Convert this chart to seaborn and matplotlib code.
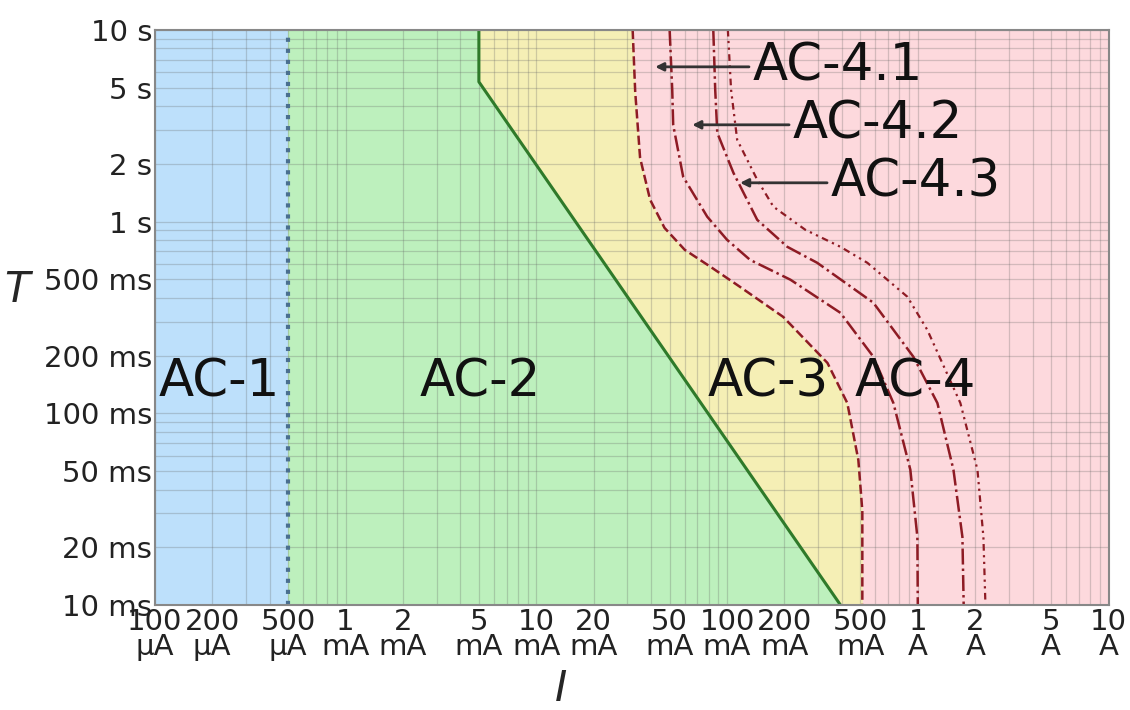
import numpy as np
import pandas as pd
import matplotlib
matplotlib.use('Agg')
import matplotlib.pyplot as plt
import seaborn as sns

sns.set_style('whitegrid')
plt.rcParams['font.family'] = ['DejaVu Sans']

# current in mA, time in ms
xticks = [0.1, 0.2, 0.5, 1, 2, 5, 10, 20, 50, 100, 200, 500, 1000, 2000, 5000, 10000]
xlabels = ['100\nµA', '200\nµA', '500\nµA', '1\nmA', '2\nmA', '5\nmA', '10\nmA', '20\nmA',
           '50\nmA', '100\nmA', '200\nmA', '500\nmA', '1\nA', '2\nA', '5\nA', '10\nA']
yticks = [10, 20, 50, 100, 200, 500, 1000, 2000, 5000, 10000]
ylabels = ['10 ms', '20 ms', '50 ms', '100 ms', '200 ms', '500 ms', '1 s', '2 s', '5 s', '10 s']

# curve a (AC-1 / AC-2 boundary)
a_I = [0.5, 0.5]
a_T = [10, 10000]
# curve b (AC-2 / AC-3 boundary)
b_I = [5, 5, 393]
b_T = [10000, 5355, 10]
# curves c1..c4
c1_I = [32, 33, 35, 39.5, 47, 60, 82, 117, 197, 336, 427, 488, 512, 512]
c1_T = [10000, 4750, 2150, 1300, 927, 712, 580, 456, 318, 183, 113, 57, 31, 10]
c2_I = [50, 51.6, 52.2, 58.9, 78.7, 100, 132, 215, 393, 585, 745, 914, 995, 1000]
c2_T = [10000, 4860, 3190, 1710, 1060, 803, 631, 497, 334, 197, 113, 50.7, 22.6, 10]
c3_I = [84.7, 86.7, 88.9, 108, 144, 207, 297, 585, 948, 1267, 1538, 1714, 1740]
c3_T = [10000, 4860, 2900, 1795, 1020, 738, 609, 377, 197, 113, 50.7, 22.6, 10]
c4_I = [101, 105, 113, 144, 175, 257, 393, 544, 882, 1122, 1672, 2055, 2208, 2263]
c4_T = [10000, 4860, 2670, 1650, 1195, 906, 738, 609, 405, 272, 113, 50.7, 22.6, 10]

zone_names = ['AC-1', 'AC-2', 'AC-3', 'AC-4']
zone_I = [0.219, 5.07, 164, 971]
zone_T = [144, 144, 144, 144]

sub_names = ['AC-4.1', 'AC-4.2', 'AC-4.3']
sub_tip_I = [42, 65.7, 117]
sub_text_I = [135.6, 220, 348]
sub_T = [6410, 3195, 1592]

blue = '#bde0fb'
green = '#bdf0bd'
yellow = '#f5efb5'
pink = '#fdd9dd'
darkred = '#8e1b24'

fig, ax = plt.subplots(figsize=(11.3, 7.1), dpi=100)
fig.subplots_adjust(left=0.137, right=0.981, bottom=0.148, top=0.958)

ax.set_xscale('log')
ax.set_yscale('log')
ax.set_xlim(0.1, 10000)
ax.set_ylim(10, 10000)
ax.set_facecolor(pink)
ax.set_axisbelow(True)

# zones
ax.fill_betweenx(c1_T, 0.1, c1_I, color=yellow, lw=0, zorder=0.2)
ax.fill_betweenx(b_T, 0.1, b_I, color=green, lw=0, zorder=0.3)
ax.axvspan(0.1, 0.5, color=blue, lw=0, zorder=0.4)

ax.grid(True, which='both', color='#666666', lw=0.9, alpha=0.28)

sns.lineplot(x=a_I, y=a_T, sort=False, estimator=None, ax=ax, color='#4a6f8f', lw=3, ls=':')
sns.lineplot(x=b_I, y=b_T, sort=False, estimator=None, ax=ax, color='#2f7a2a', lw=2.2)
sns.lineplot(x=c1_I, y=c1_T, sort=False, estimator=None, ax=ax, color=darkred, lw=1.8, ls='--')
sns.lineplot(x=c2_I, y=c2_T, sort=False, estimator=None, ax=ax, color=darkred, lw=1.8, ls='-.')
sns.lineplot(x=c3_I, y=c3_T, sort=False, estimator=None, ax=ax, color=darkred, lw=1.8, ls='-.')
sns.lineplot(x=c4_I, y=c4_T, sort=False, estimator=None, ax=ax, color=darkred, lw=1.6, ls=(0, (3, 2, 1, 2, 1, 2)))

for name, xi, ti in zip(zone_names, zone_I, zone_T):
    ax.text(xi, ti, name, fontsize=37, ha='center', va='center', color='#111111')

for name, tip, tx, ti in zip(sub_names, sub_tip_I, sub_text_I, sub_T):
    ax.annotate(name, xy=(tip, ti), xytext=(tx, ti), fontsize=37, ha='left', va='center',
                color='#111111',
                arrowprops=dict(arrowstyle='-|>', color='#333333', lw=2, mutation_scale=12,
                                shrinkA=0, shrinkB=0))

ax.set_xticks(xticks)
ax.set_xticklabels(xlabels, fontsize=21, linespacing=0.9, color='#222222')
ax.set_yticks(yticks)
ax.set_yticklabels(ylabels, fontsize=21, color='#222222')
ax.minorticks_on()
ax.tick_params(which='both', length=0, pad=2)
ax.xaxis.set_minor_formatter(matplotlib.ticker.NullFormatter())
ax.yaxis.set_minor_formatter(matplotlib.ticker.NullFormatter())

ax.set_xlabel('$I$', fontsize=30)
ax.set_ylabel('$T$', fontsize=30, rotation=0, va='center')
ax.xaxis.set_label_coords(0.425, -0.11)
ax.yaxis.set_label_coords(-0.142, 0.548)

for s in ax.spines.values():
    s.set_color('#888888')
    s.set_linewidth(1.5)

fig.savefig('out.png', dpi=100)
